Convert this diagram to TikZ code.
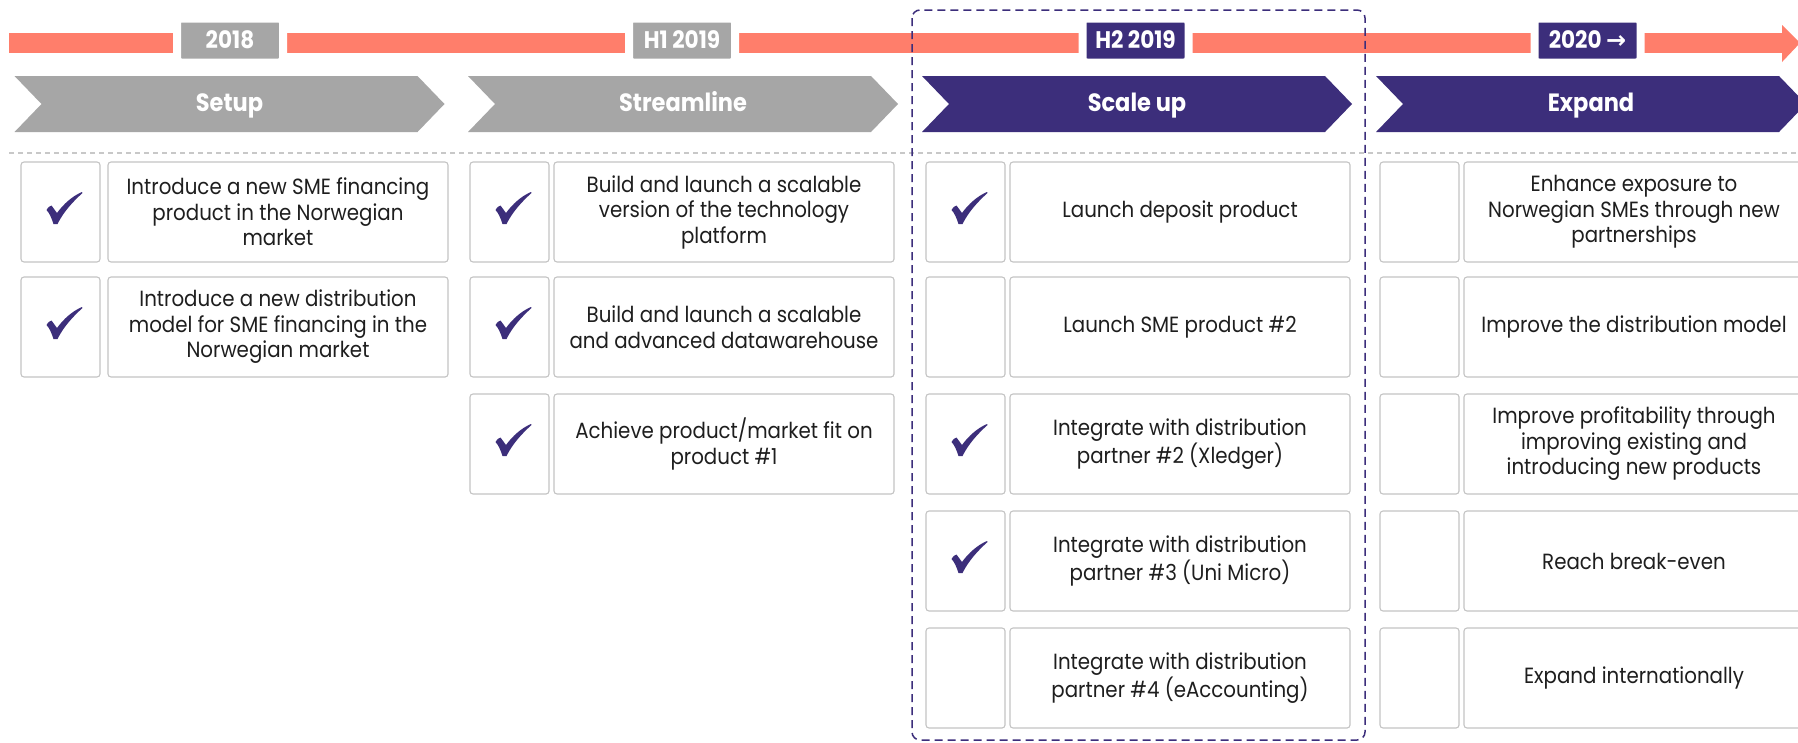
\documentclass[tikz,border=0pt]{standalone}
\usepackage{fontspec}
\setmainfont{Poppins}[FakeStretch=0.9]
\newfontfamily\arrowfont{DejaVu Sans}
\definecolor{brandpurple}{HTML}{3C2E7B}
\definecolor{phasegray}{HTML}{A6A6A6}
\definecolor{barsalmon}{HTML}{FF7E6B}
\definecolor{boxline}{HTML}{C4C4C4}
\definecolor{rulegray}{HTML}{C8C8C8}
\definecolor{inktext}{HTML}{1E1E1E}

% one phase chevron, left edge at #1, filled with #2
\newcommand\phasechev[2]{%
  \fill[#2] (#1,76) -- ++(403,0) -- ++(27,28) -- ++(-27,28) -- ++(-403,0) -- ++(27,-28) -- cycle;}

\begin{document}
\begin{tikzpicture}[x=1pt,y=-1pt,
  cell/.style={draw=boxline, line width=1.1pt, fill=white, rounded corners=3pt,
               minimum height=100pt, inner sep=0pt},
  tickcell/.style={cell, minimum width=79pt},
  goal/.style={cell, minimum width=340pt, align=center, text=inktext,
               font=\fontsize{22}{25.5}\selectfont},
  year/.style={draw=white, line width=8pt, rounded corners=4pt, minimum width=106pt,
               minimum height=44pt, inner sep=0pt, fill=#1},
  yeartxt/.style={anchor=base, inner sep=0pt, text=white,
               font=\bfseries\fontsize{24}{26}\selectfont},
  phasetxt/.style={anchor=base, inner sep=0pt, text=white,
               font=\bfseries\fontsize{25}{28}\selectfont},
  tickmark/.pic={
    \fill[brandpurple] (-14,-2) .. controls (-12,-5) and (-11,-6) .. (-9,-6.5)
      -- (-3.5,1) .. controls (3,-8) and (12,-16) .. (21.5,-20)
      .. controls (22.2,-19.6) .. (22,-19)
      .. controls (12,-10) and (3,0) .. (-3,12) -- (-7,12)
      .. controls (-9,6) and (-11,1) .. (-14,-2) -- cycle;}
]
\useasboundingbox (0,0) rectangle (1798,742);
\fill[white] (0,0) rectangle (1798,742);

% timeline bar with arrow head
\fill[barsalmon] (9,33) rectangle (1782,53);
\fill[barsalmon] (1782,25) -- (1800,43) -- (1782,62) -- cycle;

% year markers
\node[year=phasegray]   (y18)  at (230,40.5)    {};
\node[year=phasegray]   (y19a) at (682,40.5)    {};
\node[year=brandpurple] (y19b) at (1135.5,40.5) {};
\node[year=brandpurple] (y20)  at (1587.5,40.5) {};
\node[yeartxt] (y18t)  at ([yshift=-7.5pt]y18.center)  {2018};
\node[yeartxt] (y19at) at ([yshift=-7.5pt]y19a.center) {H1 2019};
\node[yeartxt] (y19bt) at ([yshift=-7.5pt]y19b.center) {H2 2019};
\node[yeartxt] (y20t)  at ([yshift=-7.5pt]y20.center)  {2020 {\arrowfont\bfseries\char"2192}};

% phase chevrons
\phasechev{14.5}{phasegray}
\phasechev{468}{phasegray}
\phasechev{922}{brandpurple}
\phasechev{1376}{brandpurple}
\node[phasetxt] (p1) at (229.5,111) {Setup};
\node[phasetxt] (p2) at (683,111)   {Streamline};
\node[phasetxt] (p3) at (1137,111)  {Scale up};
\node[phasetxt] (p4) at (1591,111)  {Expand};

% separator
\draw[rulegray, line width=1.2pt, dash pattern=on 5pt off 4pt] (9,153) -- (1798,153);

% Setup
\node[tickcell] (t11) at (60.5,212) {};
\node[goal]     (g11) at (278,212)  {Introduce a new SME financing\\product in the Norwegian\\market};
\node[tickcell] (t12) at (60.5,327) {};
\node[goal]     (g12) at (278,327)  {Introduce a new distribution\\model for SME financing in the\\Norwegian market};

% Streamline
\node[tickcell] (t21) at (509.5,212) {};
\node[goal]     (g21) at (724,212)   {Build and launch a scalable\\version of the technology\\platform};
\node[tickcell] (t22) at (509.5,327) {};
\node[goal]     (g22) at (724,327)   {Build and launch a scalable\\and advanced datawarehouse};
\node[tickcell] (t23) at (509.5,444) {};
\node[goal]     (g23) at (724,444)   {Achieve product/market fit on\\product \#1};

% Scale up
\node[tickcell] (t31) at (965.5,212) {};
\node[goal]     (g31) at (1180,212)  {Launch deposit product};
\node[tickcell] (t32) at (965.5,327) {};
\node[goal]     (g32) at (1180,327)  {Launch SME product \#2};
\node[tickcell] (t33) at (965.5,444) {};
\node[goal]     (g33) at (1180,444)  {Integrate with distribution\\partner \#2 (Xledger)};
\node[tickcell] (t34) at (965.5,561) {};
\node[goal]     (g34) at (1180,561)  {Integrate with distribution\\partner \#3 (Uni Micro)};
\node[tickcell] (t35) at (965.5,678) {};
\node[goal]     (g35) at (1180,678)  {Integrate with distribution\\partner \#4 (eAccounting)};

% Expand
\node[tickcell] (t41) at (1419.5,212) {};
\node[goal]     (g41) at (1634,212)  {Enhance exposure to\\Norwegian SMEs through new\\partnerships};
\node[tickcell] (t42) at (1419.5,327) {};
\node[goal]     (g42) at (1634,327)  {Improve the distribution model};
\node[tickcell] (t43) at (1419.5,444) {};
\node[goal]     (g43) at (1634,444)  {Improve profitability through\\improving existing and\\introducing new products};
\node[tickcell] (t44) at (1419.5,561) {};
\node[goal]     (g44) at (1634,561)  {Reach break-even};
\node[tickcell] (t45) at (1419.5,678) {};
\node[goal]     (g45) at (1634,678)  {Expand internationally};

% completed items
\foreach \t in {t11,t12,t21,t22,t23,t31,t33,t34}
  \pic at (\t.center) {tickmark};

% current period frame
\draw[brandpurple, line width=1.5pt, dash pattern=on 8pt off 5pt, rounded corners=8pt]
  (912,10) rectangle (1365,740);
\end{tikzpicture}
\end{document}
